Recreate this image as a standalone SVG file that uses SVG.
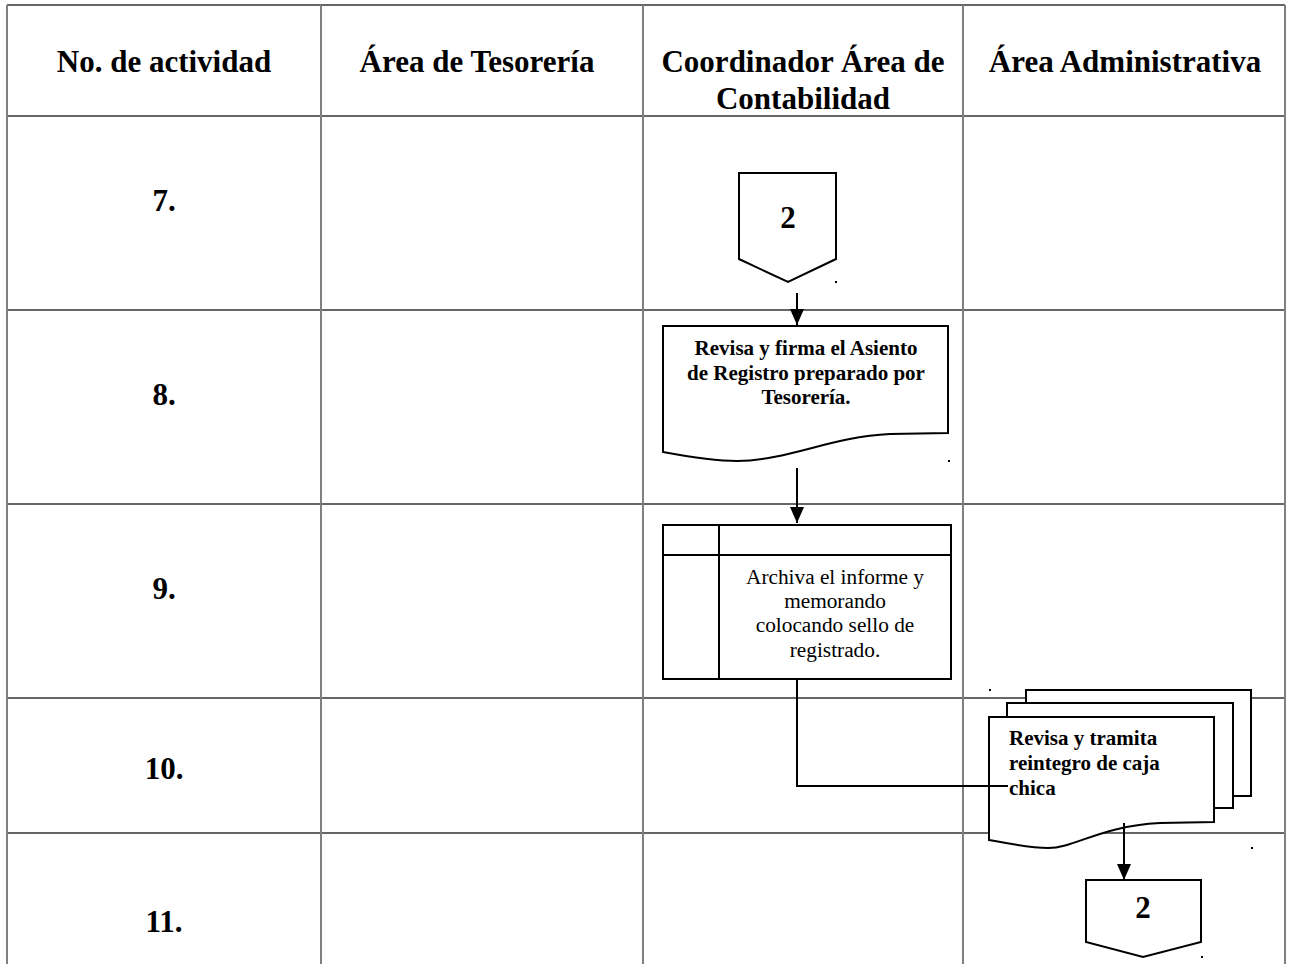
<svg xmlns="http://www.w3.org/2000/svg" width="1290" height="964" viewBox="0 0 1290 964">
<style>
.hl{stroke:#333;stroke-width:1.5;fill:none}
.vl{stroke:#808080;stroke-width:2;fill:none}
.hd{font-family:"Liberation Serif",serif;font-weight:bold;font-size:31px;fill:#000;text-anchor:middle}
.num{font-family:"Liberation Serif",serif;font-weight:bold;font-size:31px;fill:#000;text-anchor:middle}
.shp{fill:#fff;stroke:#000;stroke-width:2}
.ln{fill:none;stroke:#000;stroke-width:2}
.tb{font-family:"Liberation Serif",serif;font-weight:bold;font-size:21px;fill:#000}
.tr{font-family:"Liberation Serif",serif;font-size:21.3px;fill:#000;text-anchor:middle}
.conn{font-family:"Liberation Serif",serif;font-weight:bold;font-size:31px;fill:#000;text-anchor:middle}
.dot{fill:#000}
</style>
<defs>
<marker id="ah" markerUnits="userSpaceOnUse" markerWidth="16" markerHeight="14" viewBox="0 0 16 14" refX="16" refY="7" orient="auto">
<path d="M0,0 L16,7 L0,14 Z" fill="#000"/>
</marker>
</defs>
<rect width="1290" height="964" fill="#fff"/>
<g id="grid">
<line class="hl" x1="7" y1="5" x2="1285" y2="5"/>
<line class="hl" x1="7" y1="116" x2="1285" y2="116"/>
<line class="hl" x1="7" y1="310" x2="1285" y2="310"/>
<line class="hl" x1="7" y1="504" x2="1285" y2="504"/>
<line class="hl" x1="7" y1="698" x2="1285" y2="698"/>
<line class="hl" x1="7" y1="833" x2="1285" y2="833"/>
<line class="vl" x1="7" y1="5" x2="7" y2="964"/>
<line class="vl" x1="321" y1="5" x2="321" y2="964"/>
<line class="vl" x1="643" y1="5" x2="643" y2="964"/>
<line class="vl" x1="963" y1="5" x2="963" y2="964"/>
<line class="vl" x1="1285" y1="5" x2="1285" y2="964"/>
</g>
<g id="headers">
<text class="hd" x="164" y="72">No. de actividad</text>
<text class="hd" x="477" y="72">Área de Tesorería</text>
<text class="hd" x="803" y="72">Coordinador Área de</text>
<text class="hd" x="803" y="109">Contabilidad</text>
<text class="hd" x="1125" y="72">Área Administrativa</text>
</g>
<g id="numbers">
<text class="num" x="164" y="211">7.</text>
<text class="num" x="164" y="405">8.</text>
<text class="num" x="164" y="599">9.</text>
<text class="num" x="164" y="779">10.</text>
<text class="num" x="164" y="932">11.</text>
</g>
<g id="n7">
<path class="shp" d="M739,173 L836,173 L836,259 L788,282 L739,259 Z"/>
<text class="conn" x="788" y="228">2</text>
</g>
<g id="n8">
<path class="shp" d="M663,326 L948,326 L948,433 L890,434 C830,437 790,460 737,461 C715,461 690,457 663,452 Z"/>
<text class="tb" x="806" y="355" text-anchor="middle">Revisa y firma el Asiento</text>
<text class="tb" x="806" y="380" text-anchor="middle">de Registro preparado por</text>
<text class="tb" x="806" y="404" text-anchor="middle">Tesorería.</text>
</g>
<g id="n9">
<rect class="shp" x="663" y="525" width="288" height="154"/>
<line class="ln" x1="719" y1="525" x2="719" y2="679"/>
<line class="ln" x1="663" y1="555" x2="951" y2="555"/>
<text class="tr" x="835" y="584">Archiva el informe y</text>
<text class="tr" x="835" y="608">memorando</text>
<text class="tr" x="835" y="632">colocando sello de</text>
<text class="tr" x="835" y="657">registrado.</text>
</g>
<g id="n10">
<path class="shp" d="M1026,703 L1026,690 L1251,690 L1251,796 L1233,796"/>
<path class="shp" d="M1007,717 L1007,703 L1233,703 L1233,808 L1214,808"/>
<path class="shp" d="M989,717 L1214,717 L1214,822 L1160,823 C1100,826 1075,848 1048,848 C1030,848 1010,844 989,840 Z"/>
<text class="tb" x="1009" y="745">Revisa y tramita</text>
<text class="tb" x="1009" y="770">reintegro de caja</text>
<text class="tb" x="1009" y="795">chica</text>
</g>
<g id="n11">
<path class="shp" d="M1086,880 L1201,880 L1201,942 L1143,957 L1086,942 Z"/>
<text class="conn" x="1143" y="918">2</text>
</g>
<g id="connectors">
<line class="ln" x1="797" y1="293" x2="797" y2="325" marker-end="url(#ah)"/>
<line class="ln" x1="797" y1="468" x2="797" y2="523" marker-end="url(#ah)"/>
<path class="ln" d="M797,679 L797,786 L1008,786"/>
<line class="ln" x1="1124" y1="823" x2="1124" y2="880" marker-end="url(#ah)"/>
</g>
<g id="marks">
<rect class="dot" x="835" y="281" width="2" height="2"/>
<rect class="dot" x="948" y="460" width="2" height="2"/>
<rect class="dot" x="989" y="689" width="2" height="2"/>
<rect class="dot" x="1251" y="847" width="2" height="2"/>
<rect class="dot" x="1201" y="956" width="2" height="2"/>
</g>
</svg>
